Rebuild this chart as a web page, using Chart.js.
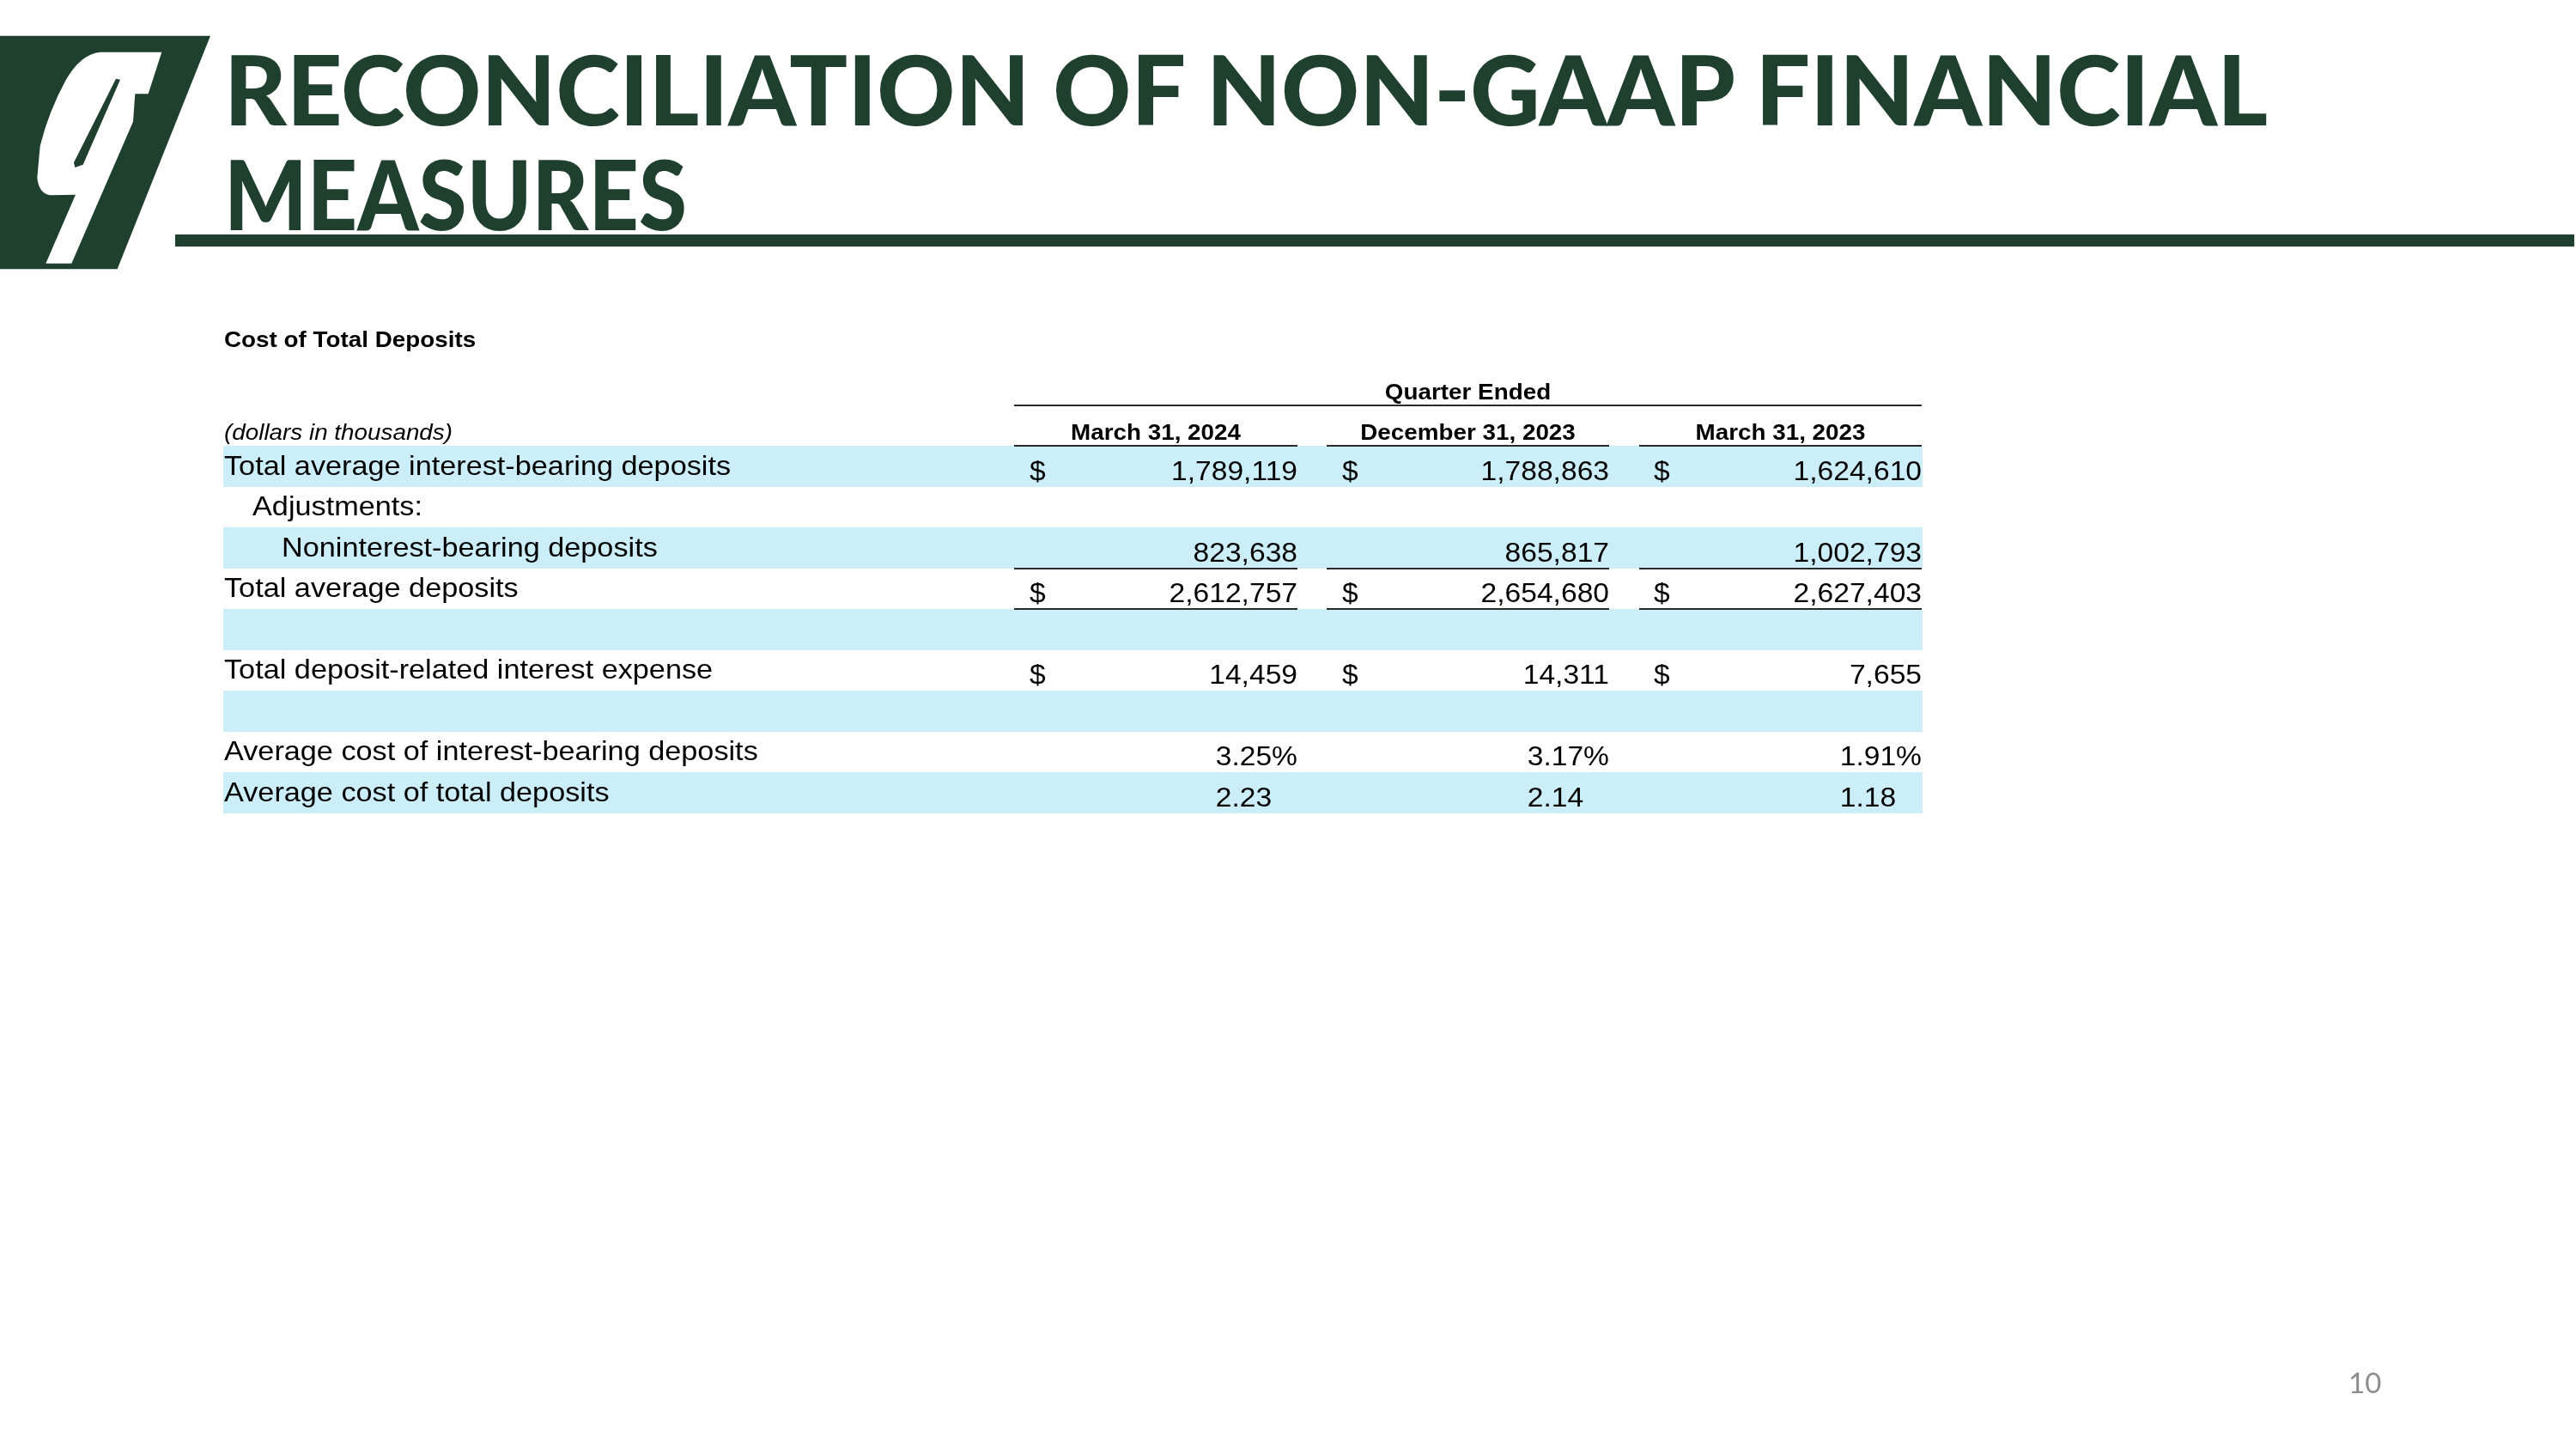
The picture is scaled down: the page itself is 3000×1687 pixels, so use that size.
<!DOCTYPE html>
<html>
<head>
<meta charset="utf-8">
<script src="https://cdn.jsdelivr.net/npm/chart.js@4.4.1/dist/chart.umd.min.js"></script>
<style>
  html, body { margin: 0; padding: 0; background: #fff; overflow: hidden; }
  #page { position: relative; width: 3000px; height: 1687px; }
  #table { position: absolute; left: 0; top: 0; width: 3000px; height: 1687px; }
  #deco { position: absolute; left: 0; top: 0; pointer-events: none; }
</style>
</head>
<body>
<div id="page">
  <canvas id="table" width="3000" height="1687"></canvas>
  <svg id="deco" width="3000" height="1687" viewBox="0 0 3000 1687">
    <g transform="translate(0,30) scale(0.33333)">
      <polygon points="0,35 735,35 410,850 0,850" fill="#1f3f2f"/>
      <path fill="#fff" fill-rule="evenodd"
        d="M350,92 L565,92 L518,238 L472,238 L465,335 L250,830 L160,830 L264,590 L175,592 Q135,585 130,530 L140,420 Q170,300 230,190 Q280,100 350,92 Z
           M405,185 L420,188 L290,485 L262,495 L258,478 Z"/>
    </g>
    <text x="261" y="146" font-family="Lato" font-weight="900" font-size="113" fill="#1f3f2f"
      textLength="2380" lengthAdjust="spacingAndGlyphs">RECONCILIATION OF NON-GAAP FINANCIAL</text>
    <text x="261" y="268" font-family="Lato" font-weight="900" font-size="113" fill="#1f3f2f"
      textLength="539" lengthAdjust="spacingAndGlyphs">MEASURES</text>
    <rect x="204" y="273" width="2794" height="14" fill="#1f3f2f"/>
    <text x="2735" y="1622" font-family="Lato" font-size="33" fill="#8c8c8c">10</text>
  </svg>
</div>
<script>
// table content
const tableTitle = "Cost of Total Deposits";
const unitNote = "(dollars in thousands)";
const groupHeader = "Quarter Ended";
const periods = ["March 31, 2024", "December 31, 2023", "March 31, 2023"];

const rowLabels = [
  "Total average interest-bearing deposits",
  "Adjustments:",
  "Noninterest-bearing deposits",
  "Total average deposits",
  "",
  "Total deposit-related interest expense",
  "",
  "Average cost of interest-bearing deposits",
  "Average cost of total deposits"
];
const rowIndent = [0, 1, 2, 0, 0, 0, 0, 0, 0];

const avgInterestBearing = [1789119, 1788863, 1624610];
const nonInterestBearing = [823638, 865817, 1002793];
const avgTotalDeposits = [2612757, 2654680, 2627403];
const interestExpense = [14459, 14311, 7655];
const costInterestBearing = [3.25, 3.17, 1.91];
const costTotalDeposits = [2.23, 2.14, 1.18];

// which series goes in which row, and how it is written
const rowValues = [avgInterestBearing, null, nonInterestBearing, avgTotalDeposits, null,
  interestExpense, null, costInterestBearing, costTotalDeposits];
const rowFormat = ["dollar", null, "plain", "dollar", null, "dollar", null, "pct", "pctPad"];

// layout (px, measured from the left edge of the table)
const TABLE_W = 1979;
const INDENT_PX = [1, 34, 68];
const COL_RIGHT = [1251, 1614, 1978];
const DOLLAR_X = [939, 1303, 1666];
const RULE_LEFT = [921, 1285, 1649];
const SX = 1.05;       // the source text is a touch wider than Arial
const SX_LABEL = 1.07; // row labels a bit more so
const BAND = "#cceef9";
const RULE = "#2a2a2a";

function txt(ctx, s, x, y, align, font, sx) {
  sx = sx || SX;
  ctx.save();
  ctx.font = font;
  const w = ctx.measureText(s).width * sx;
  let left = x;
  if (align === "right") left = x - w;
  else if (align === "center") left = x - w / 2;
  ctx.translate(left, y);
  ctx.scale(sx, 1);
  ctx.textAlign = "left";
  ctx.textBaseline = "alphabetic";
  ctx.fillStyle = "#000";
  ctx.fillText(s, 0, 0);
  ctx.restore();
  return w;
}

function fmt(v, kind) {
  if (kind === "pct" || kind === "pctPad") return v.toFixed(2);
  return v.toLocaleString("en-US");
}

const REG = "32px 'Liberation Sans', Arial, sans-serif";
const BOLD = "bold 26.5px 'Liberation Sans', Arial, sans-serif";
const ITAL = "italic 26.5px 'Liberation Sans', Arial, sans-serif";

const tablePlugin = {
  id: "tableText",
  afterDatasetsDraw(chart) {
    const ctx = chart.ctx;
    const xs = chart.scales.x, ys = chart.scales.y;
    const X = (v) => xs.getPixelForValue(v);
    const step = ys.getPixelForValue(1) - ys.getPixelForValue(0);
    const rowTop = (i) => ys.getPixelForValue(i) - step / 2;
    const rowBottom = (i) => ys.getPixelForValue(i) + step / 2;

    // headers
    txt(ctx, tableTitle, X(1), 404, "left", BOLD);
    txt(ctx, unitNote, X(1), 512, "left", ITAL);
    txt(ctx, groupHeader, (X(RULE_LEFT[0]) + X(COL_RIGHT[2])) / 2, 465, "center", BOLD);
    ctx.fillStyle = RULE;
    ctx.fillRect(X(RULE_LEFT[0]), 471, X(COL_RIGHT[2]) - X(RULE_LEFT[0]), 2);
    periods.forEach((p, c) => {
      txt(ctx, p, (X(RULE_LEFT[c]) + X(COL_RIGHT[c])) / 2, 512, "center", BOLD);
    });

    // column rules: under headers, above and below the total line
    const ruleYs = [rowTop(0), rowTop(3), rowBottom(3)];
    ctx.fillStyle = RULE;
    ruleYs.forEach((y) => {
      for (let c = 0; c < 3; c++) {
        ctx.fillRect(X(RULE_LEFT[c]), Math.round(y) - 1, X(COL_RIGHT[c]) - X(RULE_LEFT[c]), 2);
      }
    });

    // rows
    ctx.font = REG;
    const pctW = ctx.measureText("%").width * SX;
    rowLabels.forEach((label, i) => {
      const b = rowBottom(i);
      if (label) txt(ctx, label, X(INDENT_PX[rowIndent[i]]), b - 14, "left", REG, SX_LABEL);
      const vals = rowValues[i];
      if (!vals) return;
      vals.forEach((v, c) => {
        const kind = rowFormat[i];
        let s = fmt(v, kind);
        let right = X(COL_RIGHT[c]);
        if (kind === "pct") s += "%";
        if (kind === "pctPad") right -= pctW;
        txt(ctx, s, right, b - 8, "right", REG);
        if (kind === "dollar") txt(ctx, "$", X(DOLLAR_X[c]), b - 8, "left", REG);
      });
    });
  }
};

new Chart(document.getElementById("table").getContext("2d"), {
  type: "bar",
  data: {
    labels: rowLabels,
    datasets: [{
      data: rowLabels.map((_, i) => (i % 2 === 0 ? [0, TABLE_W] : null)),
      backgroundColor: BAND,
      borderWidth: 0,
      barPercentage: 1,
      categoryPercentage: 1
    }]
  },
  options: {
    indexAxis: "y",
    responsive: false,
    animation: false,
    events: [],
    layout: { padding: { left: 260, right: 761, top: 519, bottom: 740 } },
    scales: {
      x: { type: "linear", min: 0, max: TABLE_W, display: false },
      y: { display: false }
    },
    plugins: { legend: { display: false }, tooltip: { enabled: false } }
  },
  plugins: [tablePlugin]
});
</script>
</body>
</html>
